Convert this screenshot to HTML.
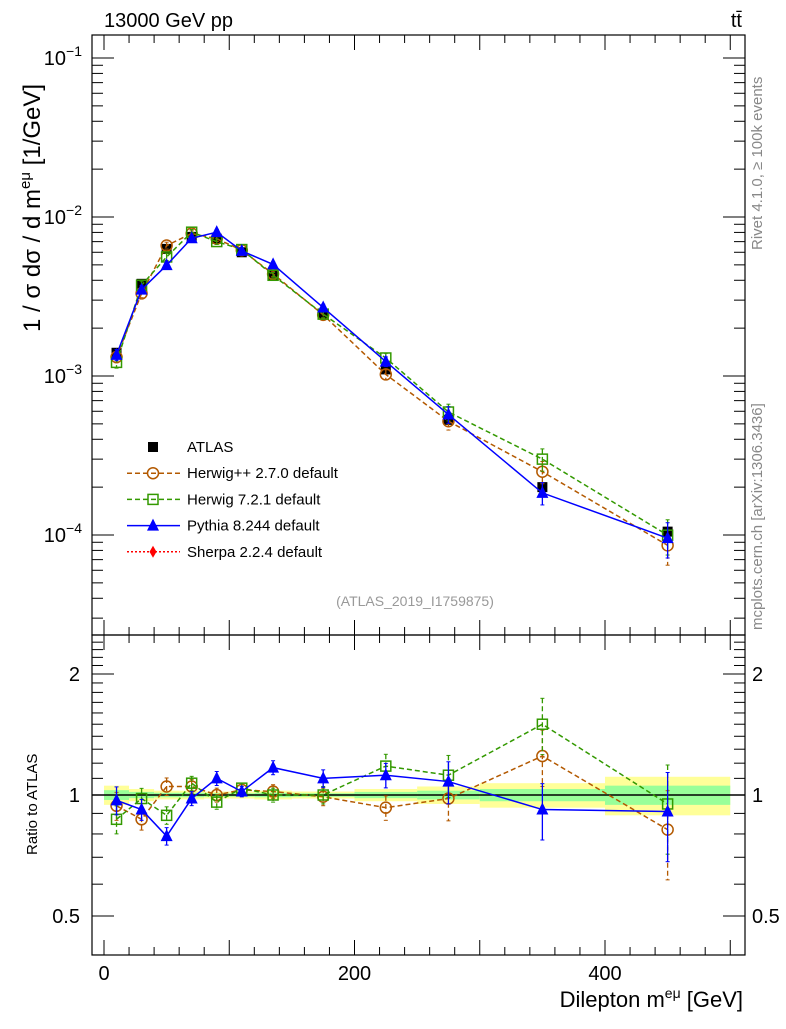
<!DOCTYPE html>
<html><head><meta charset="utf-8"><style>
body{margin:0;background:#fff;}
svg{font-family:"Liberation Sans",sans-serif;}
</style></head><body>
<svg id="c" width="786" height="1024" xmlns="http://www.w3.org/2000/svg">
<g id="bands"></g>
<g id="grid"></g>
<g id="series"></g>
<rect x="92" y="35" width="653" height="600" fill="none" stroke="#000" stroke-width="1.2"/>
<rect x="92" y="635" width="653" height="320" fill="none" stroke="#000" stroke-width="1.2"/>
<g id="ticks" stroke="#000" stroke-width="1"></g>
<g id="labels" font-size="20"></g>
<text x="104" y="27" font-size="20">13000 GeV pp</text>
<text x="742" y="27" font-size="20" text-anchor="end">tt̄</text>
<text x="415" y="606" font-size="14" fill="#999" text-anchor="middle">(ATLAS_2019_I1759875)</text>
<text transform="translate(762,250) rotate(-90)" font-size="15" fill="#888">Rivet 4.1.0, ≥ 100k events</text>
<text transform="translate(762,630) rotate(-90)" font-size="15" fill="#888">mcplots.cern.ch [arXiv:1306.3436]</text>
<text transform="translate(40,332) rotate(-90)" font-size="24">1 / σ  dσ / d m<tspan dy="-10" font-size="15">eμ</tspan><tspan dy="10"> [1/GeV]</tspan></text>
<text transform="translate(37,855) rotate(-90)" font-size="15">Ratio to ATLAS</text>
<text x="743" y="1007" font-size="22" text-anchor="end">Dilepton m<tspan dy="-9" font-size="14">eμ</tspan><tspan dy="9"> [GeV]</tspan></text>
<g id="legend" font-size="15"></g>
</svg>
<script>
const xs=[10,30,50,70,90,110,135,175,225,275,350,450];
const edges=[0,20,40,60,80,100,120,150,200,250,300,400,500];
const atlas=[1.4e-3,3.8e-3,6.3e-3,7.5e-3,7.3e-3,6.0e-3,4.3e-3,2.45e-3,1.1e-3,0.53e-3,2.0e-4,1.05e-4];
const yellowBand=[0.055,0.035,0.025,0.025,0.02,0.02,0.025,0.02,0.035,0.05,0.07,0.11];
const greenBand=[0.028,0.018,0.013,0.013,0.01,0.01,0.013,0.01,0.018,0.025,0.035,0.055];
const herwigppRatio=[0.94,0.87,1.05,1.05,1.0,1.03,1.02,0.99,0.93,0.98,1.25,0.82];
const herwig7Ratio=[0.87,0.98,0.89,1.07,0.96,1.04,1.0,1.0,1.18,1.12,1.5,0.95];
const pythiaRatio=[0.97,0.92,0.79,0.98,1.1,1.02,1.17,1.1,1.12,1.08,0.92,0.91];
const relErr=[0.08,0.06,0.05,0.04,0.04,0.03,0.04,0.05,0.07,0.12,0.16,0.25];
const xTicks=[0,200,400];
const ratioTicks=[0.5,1,2];
const ratioTickLabels=["0.5","1","2"];

const NS="http://www.w3.org/2000/svg";
const X=v=>104+v*1.2525;
const Y=v=>217-(Math.log10(v)+2)*159;
const R=v=>795-Math.log2(v)*121;
function el(p,t,a){const e=document.createElementNS(NS,t);for(const k in a)e.setAttribute(k,a[k]);p.appendChild(e);return e;}
const svg=document.getElementById('c');
const bands=document.getElementById('bands'),ticks=document.getElementById('ticks'),labels=document.getElementById('labels'),series=document.getElementById('series'),legend=document.getElementById('legend');

for(let i=0;i<xs.length;i++){
  const y=el(bands,'rect',{x:X(edges[i]),y:R(1+yellowBand[i]),width:X(edges[i+1])-X(edges[i]),height:R(1-yellowBand[i])-R(1+yellowBand[i]),fill:'#ffff99'});
  
  
  const g=el(bands,'rect',{x:X(edges[i]),y:R(1+greenBand[i]),width:X(edges[i+1])-X(edges[i]),height:R(1-greenBand[i])-R(1+greenBand[i]),fill:'#99ff99'});
  
  
}
el(series,'line',{x1:92,x2:745,y1:R(1),y2:R(1),stroke:'#000','stroke-width':1.5});

for(let d=-5;d<=-1;d++){for(let m=1;m<10;m++){const v=m*Math.pow(10,d);const y=Y(v);if(y<35||y>635)continue;const L=m==1?22:11;
 el(ticks,'line',{x1:92,x2:92+L,y1:y,y2:y});el(ticks,'line',{x1:745,x2:745-L,y1:y,y2:y});}
 const yy=Y(Math.pow(10,d));if(yy>=35&&yy<=635){const t=el(labels,'text',{x:82,y:yy+7,'text-anchor':'end'});t.textContent='10';const s=el(t,'tspan',{dy:-9,'font-size':14});s.textContent='−'+(-d);
 
 }}
for(let v=0.4;v<=2.5;v+=0.1){const y=R(v);if(y<635||y>955)continue;const maj=Math.abs(v-0.5)<1e-6||Math.abs(v-1)<1e-6||Math.abs(v-2)<1e-6;const L=maj?22:11;
 el(ticks,'line',{x1:92,x2:92+L,y1:y,y2:y});el(ticks,'line',{x1:745,x2:745-L,y1:y,y2:y});}
ratioTicks.forEach((v,i)=>{for(const [x,a] of [[80,'end'],[752,'start']]){const t=el(labels,'text',{x:x,y:R(v)+7,'text-anchor':a});t.textContent=ratioTickLabels[i];
 
 }});
for(let v=0;v<=500;v+=20){const maj=v%100==0;const L=maj?15:8;
 for(const [y0,dir] of [[35,1],[635,-1],[635,1],[955,-1]]){el(ticks,'line',{x1:X(v),x2:X(v),y1:y0,y2:y0+dir*L});}}
xTicks.forEach(v=>{const t=el(labels,'text',{x:X(v),y:980,'text-anchor':'middle'});t.textContent=v;
 
 });

function marker(g,type,x,y,c){
 if(type=='sq')return el(g,'rect',{x:x-5,y:y-5,width:10,height:10,fill:'none',stroke:c,'stroke-width':1.5});
 if(type=='fsq')return el(g,'rect',{x:x-5,y:y-5,width:10,height:10,fill:c});
 if(type=='circ')return el(g,'circle',{cx:x,cy:y,r:5.5,fill:'none',stroke:c,'stroke-width':1.5});
 if(type=='tri')return el(g,'polygon',{points:`${x},${y-7} ${x-6},${y+5} ${x+6},${y+5}`,fill:c});
 if(type=='dia')return el(g,'polygon',{points:`${x},${y-6} ${x-3.5},${y} ${x},${y+6} ${x+3.5},${y}`,fill:c});
}
function drawModel(name,ratio,color,type,dash){
 const g=el(series,'g',{});
 
 
 const mp=xs.map((x,i)=>[X(x),Y(atlas[i]*ratio[i])]);
 const rp=xs.map((x,i)=>[X(x),R(ratio[i])]);
 for(const [pts,fy,sc] of [[mp,v=>Y(v),1],[rp,v=>R(v),0]]){
  el(g,'polyline',{points:pts.map(p=>p.join(',')).join(' '),fill:'none',stroke:color,'stroke-width':1.5,'stroke-dasharray':dash||''});
  xs.forEach((x,i)=>{const base=sc?atlas[i]*ratio[i]:ratio[i];const e=relErr[i]*base;
   el(g,'line',{x1:X(x),x2:X(x),y1:fy(base+e),y2:fy(base-e),stroke:color,'stroke-width':1.3,'stroke-dasharray':dash||''});
   el(g,'line',{x1:X(x)-2,x2:X(x)+2,y1:fy(base+e),y2:fy(base+e),stroke:color});
   el(g,'line',{x1:X(x)-2,x2:X(x)+2,y1:fy(base-e),y2:fy(base-e),stroke:color});
   const m=marker(g,type,pts[i][0],pts[i][1],color);
   
   });
 }
}
const ag=el(series,'g',{});


xs.forEach((x,i)=>{const e=atlas[i]*0.04;el(ag,'line',{x1:X(x),x2:X(x),y1:Y(atlas[i]+e),y2:Y(atlas[i]-e),stroke:'#000'});
 const m=marker(ag,'fsq',X(x),Y(atlas[i]),'#000');
 
 });
drawModel('herwigpp',herwigppRatio,'#b35900','circ','5,3');
drawModel('herwig7',herwig7Ratio,'#339900','sq','5,3');
drawModel('pythia',pythiaRatio,'#0000ff','tri','');

const leg=[['ATLAS','#000','fsq',null],['Herwig++ 2.7.0 default','#b35900','circ','5,3'],['Herwig 7.2.1 default','#339900','sq','5,3'],['Pythia 8.244 default','#0000ff','tri',''],['Sherpa 2.2.4 default','#ff0000','dia','2,2']];
leg.forEach((l,i)=>{const y=447+i*26.2;const g=el(legend,'g',{});
 
 
 if(l[3]!==null)el(g,'line',{x1:127,x2:180,y1:y,y2:y,stroke:l[1],'stroke-width':1.5,'stroke-dasharray':l[3]});
 marker(g,l[2],153,y,l[1]);
 const t=el(g,'text',{x:187,y:y+5});t.textContent=l[0];});
</script>
</body></html>
